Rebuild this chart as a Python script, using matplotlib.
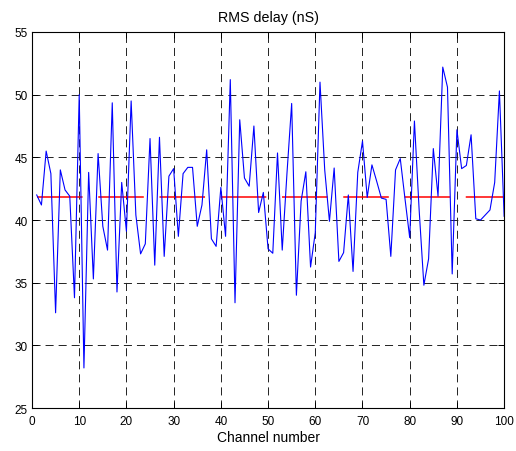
import matplotlib
matplotlib.use("Agg")
import matplotlib.pyplot as plt
import numpy as np

plt.rcParams['font.family'] = ['Liberation Sans', 'DejaVu Sans']
plt.rcParams['lines.scale_dashes'] = False

# rms delay spread for each channel, in nS
channels = np.arange(1, 101)
rms_delay = [42.0, 41.2, 45.5, 43.7, 32.6, 44.0, 42.4, 41.9, 33.8, 50.0,
             28.2, 43.8, 35.3, 45.3, 39.5, 37.6, 49.35, 34.26, 43.0, 39.1,
             49.5, 40.4, 37.3, 38.1, 46.5, 36.4, 46.6, 37.1, 43.5, 44.1,
             38.7, 43.7, 44.2, 44.2, 39.5, 41.2, 45.6, 38.5, 37.9, 42.6,
             38.7, 51.2, 33.4, 48.0, 43.35, 42.7, 47.5, 40.6, 42.2, 37.7,
             37.35, 45.35, 37.6, 43.7, 49.3, 34.0, 41.5, 43.85, 36.25, 39.0,
             51.0, 44.0, 39.9, 44.15, 36.7, 37.4, 42.0, 35.9, 43.8, 46.3,
             41.8, 44.4, 43.1, 41.75, 41.65, 37.1, 44.0, 44.9, 41.7, 38.6,
             47.9, 40.8, 34.8, 36.9, 45.7, 41.9, 52.2, 50.6, 35.7, 47.2,
             44.1, 44.35, 46.8, 40.1, 40.0, 40.4, 40.8, 43.0, 50.3, 40.3]
mean_delay = 41.85

xticks = np.arange(0, 101, 10)
yticks = np.arange(25, 56, 5)

fig = plt.figure(figsize=(5.16, 4.52), dpi=100)
ax = fig.add_axes([0.062, 0.095, 0.915, 0.832])

ax.plot(channels, rms_delay, color=(0, 0, 1), linewidth=0.8, zorder=3)
red, = ax.plot([channels[0], channels[-1]], [mean_delay, mean_delay],
               color=(1, 0, 0), linewidth=1.1, zorder=2)
red.set_dashes((32.8, 11.3))

ax.set_xlim(0, 100)
ax.set_ylim(25, 55)
ax.set_xticks(xticks)
ax.set_yticks(yticks)
ax.tick_params(direction='in', top=True, right=True, length=4, width=0.7,
               labelsize=8.5)
ax.tick_params(axis='x', pad=5)
ax.tick_params(axis='y', pad=3)
for s in ax.spines.values():
    s.set_linewidth(0.8)

ax.grid(True, color='#222222', linewidth=0.7, linestyle=(0, (5.8, 3.6)))

ax.set_title('RMS delay (nS)', fontsize=10.3, pad=8)
ax.set_xlabel('Channel number', fontsize=10, labelpad=2)

fig.savefig('out.png', dpi=100)
